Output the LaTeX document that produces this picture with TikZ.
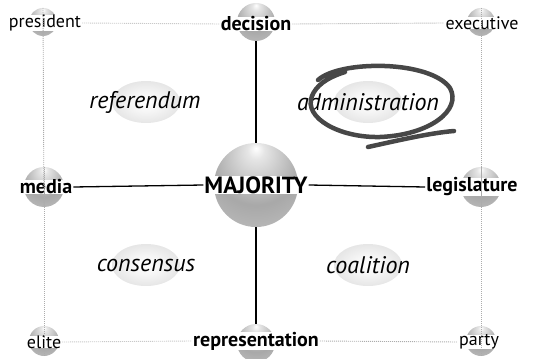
\documentclass[tikz,border=0pt]{standalone}
\usepackage{fontspec}
\setmainfont{PT Sans}
\pgfdeclareradialshading{sph}{\pgfpoint{0bp}{22bp}}{color(0bp)=(white); color(5bp)=(gray!20); color(26bp)=(gray!68); color(48bp)=(gray!45); color(72bp)=(gray!15)}
\pgfdeclareradialshading{ell}{\pgfpoint{0bp}{0bp}}{color(0bp)=(white); color(12bp)=(gray!8); color(50bp)=(gray!42)}
\begin{document}
\begin{tikzpicture}[x=1pt,y=-1pt,
  lab/.style={fill=white,inner xsep=1pt,inner ysep=0pt,font=\fontsize{18}{18}\selectfont},
  blab/.style={fill=white,inner xsep=1pt,inner ysep=0pt,font=\bfseries\fontsize{20}{20}\selectfont},
  big/.style={fill=white,inner xsep=1pt,inner ysep=0pt,text height=17.5pt,text depth=0.5pt,font=\bfseries\fontsize{23.5}{23.5}\selectfont},
  ital/.style={font=\itshape\fontsize{24}{24}\selectfont},
  dotl/.style={gray!65,line width=0.9pt,dash pattern=on 0.9pt off 1.1pt},
  solid line/.style={black,line width=1.3pt}]
\useasboundingbox (0,0) rectangle (534,358);
% spheres (coordinates)
\coordinate (sP) at (43,22);
\coordinate (sD) at (256,22);
\coordinate (sE) at (481,22);
\coordinate (sM) at (44,187);
\coordinate (sC) at (256,185);
\coordinate (sL) at (481,187);
\coordinate (sEl) at (44,341);
\coordinate (sR) at (256,343);
\coordinate (sPa) at (481,341);
% ellipses
\shade[shading=ell] (146,102) ellipse (34 and 21);
\shade[shading=ell] (368,102) ellipse (34 and 21);
\shade[shading=ell] (146,265) ellipse (34 and 21);
\shade[shading=ell] (368,265) ellipse (34 and 21);
% solid axes
\draw[solid line] ([yshift=17pt]sD) -- ([yshift=-17pt]sR);
% spheres drawn
\foreach \c/\r in {sP/14,sD/19,sE/14,sM/20,sC/42,sL/20,sEl/15,sR/19,sPa/15}
  \shade[shading=sph] (\c) circle (\r);
% labels
\node[lab] (president) at (45,23) {president};
\node[blab] (decision) at (256,24) {decision};
\node[lab] (executive) at (482,23) {executive};
\node[blab] (media) at (46,187) {media};
\node[big] (majority) at (256,185) {MAJORITY};
\node[blab] (legislature) at (472,187) {legislature};
\node[lab] (elite) at (44,342) {elite};
\node[blab] (representation) at (256,341) {representation};
\node[lab] (party) at (479,342) {party};
\draw[solid line] (media.east) -- (majority.west);
\draw[solid line] (majority.east) -- (legislature.west);
% dotted frame
\draw[dotl] (president.east) -- (decision.west);
\draw[dotl] (decision.east) -- (executive.west);
\draw[dotl] (elite.east) -- (representation.west);
\draw[dotl] (representation.east) -- (party.west);
\draw[dotl] ([yshift=14pt]sP) -- ([yshift=-20pt]sM);
\draw[dotl] ([yshift=20pt]sM) -- ([yshift=-15pt]sEl);
\draw[dotl] ([yshift=14pt]sE) -- ([yshift=-20pt]sL);
\draw[dotl] ([yshift=20pt]sL) -- ([yshift=-15pt]sPa);
% italic labels
\node[ital] (referendum) at (145,102) {referendum};
\node[ital] (administration) at (368,102) {administration};
\node[ital] (consensus) at (146,265) {consensus};
\node[ital] (coalition) at (368,265) {coalition};
% scribble
\draw[gray!30!black!85,line width=4.5pt,line cap=round]
  (318,80) .. controls (340,60) and (430,60) .. (450,88)
  .. controls (462,110) and (430,135) .. (380,137)
  .. controls (340,138) and (303,118) .. (312,96)
  .. controls (316,86) and (326,78) .. (345,72);
\draw[gray!30!black!85,line width=4.5pt,line cap=round]
  (368,147) .. controls (400,140) and (430,133) .. (454,131);
\end{tikzpicture}
\end{document}
